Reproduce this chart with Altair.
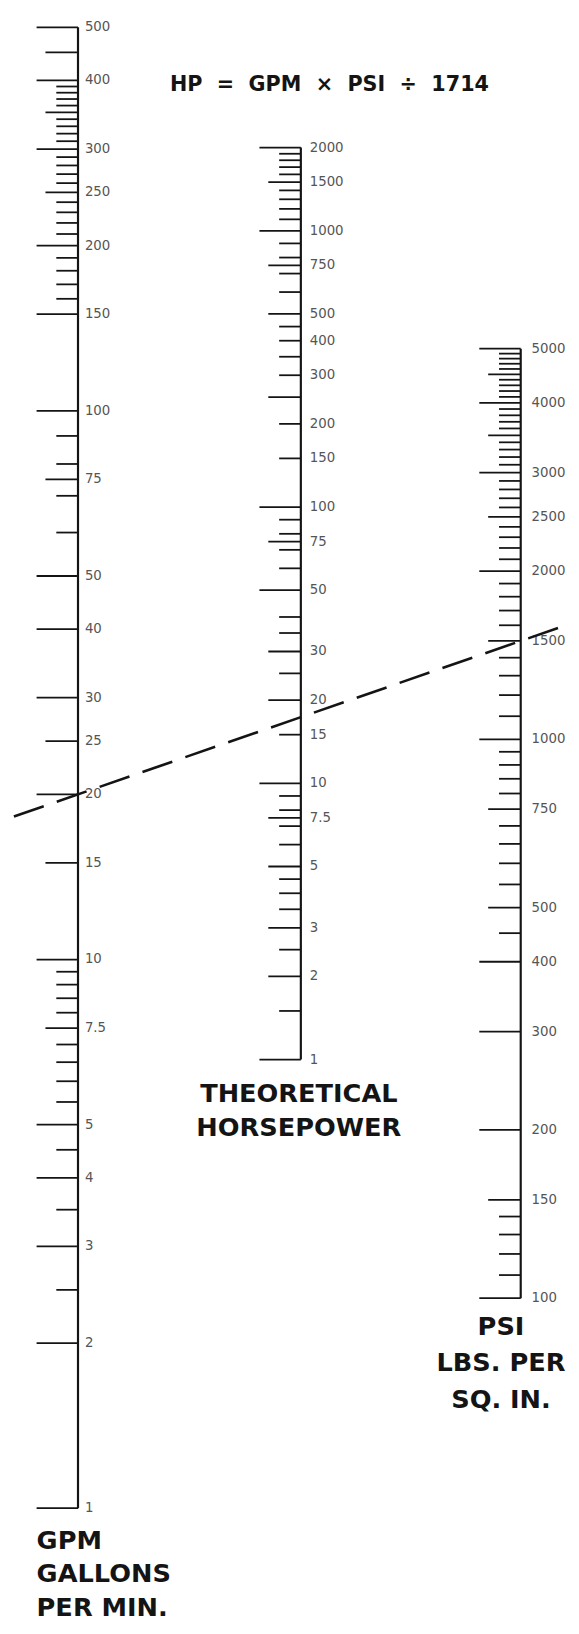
import altair as alt
import pandas as pd

# ---------------- data ----------------
GPM_MAJOR = [500, 400, 300, 200, 150, 100, 50, 40, 30, 20, 10, 5, 4, 3, 2, 1]
GPM_MID = [450, 350, 250, 75, 25, 15, 7.5]
GPM_MINOR = [390, 380, 370, 360, 340, 330, 320, 310, 290, 280, 270, 260,
             240, 230, 220, 210, 190, 180, 170, 160, 90, 80, 70, 60,
             9.5, 9, 8.5, 8, 7, 6.5, 6, 5.5, 4.5, 3.5, 2.5]
GPM_LABELS = [500, 400, 300, 250, 200, 150, 100, 75, 50, 40, 30, 25, 20, 15,
              10, 7.5, 5, 4, 3, 2, 1]

HP_MAJOR = [2000, 1000, 100, 50, 10, 1]
HP_MID = [1500, 750, 500, 250, 75, 30, 20, 7.5, 5, 3, 2]
HP_MINOR = [1900, 1800, 1700, 1600, 1400, 1300, 1200, 1100, 900, 800, 700, 600,
            450, 400, 350, 300, 200, 150, 90, 80, 70, 60, 40, 35, 25, 15,
            9, 8, 7, 6, 4.5, 4, 3.5, 2.5, 1.5]
HP_LABELS = [2000, 1500, 1000, 750, 500, 400, 300, 200, 150, 100, 75, 50, 30,
             20, 15, 10, 7.5, 5, 3, 2, 1]

PSI_MAJOR = [5000, 4000, 3000, 2000, 1000, 400, 300, 200, 100]
PSI_MID = [4500, 3500, 2500, 1500, 750, 500, 150]
PSI_MINOR = [4900, 4800, 4700, 4600, 4400, 4300, 4200, 4100,
             3900, 3800, 3700, 3600, 3400, 3300, 3200, 3100,
             2900, 2800, 2700, 2600, 2400, 2300, 2200, 2100,
             1900, 1800, 1700, 1600, 1400, 1300, 1200, 1100,
             950, 900, 850, 800, 700, 650, 600, 550, 450,
             140, 130, 120, 110]
PSI_LABELS = [5000, 4000, 3000, 2500, 2000, 1500, 1000, 750, 500, 400, 300,
              200, 150, 100]

KEY_GPM = 20      # example: 20 GPM
KEY_PSI = 1500    # at 1500 PSI -> about 17.5 HP

FORMULA = "HP\u00a0\u00a0=\u00a0\u00a0GPM\u00a0\u00a0\u00d7\u00a0\u00a0PSI\u00a0\u00a0\u00f7\u00a0\u00a01714"
GPM_TITLE = "GPM\nGALLONS\nPER MIN."
HP_TITLE = "THEORETICAL\nHORSEPOWER"
PSI_TITLE = "PSI\nLBS. PER\nSQ. IN."

# ---------------- layout (scale geometry of the nomogram) ----------------
# name: (axis x, y of value 1, pixels per decade, label offset)
GEOM = {"GPM": (77, 1518.0, 556.5, 7),
        "HP": (303, 1063.0, 280.2, 9),
        "PSI": (526, 2438.6, 566.8, 11)}
TICK_LEN = {"major": 42, "mid": 33, "minor": 22}

XS = alt.Scale(domain=[8, 571], nice=False, zero=False)
YS = alt.Scale(domain=[8, 1626], nice=False, zero=False, reverse=True)
INK = "#141414"


def by_scale(fn):
    parts = [f"datum.scale == '{k}' ? ({fn(*v)})" for k, v in GEOM.items()]
    return " : ".join(parts) + " : 0"


def pos_expr(field):
    return by_scale(lambda ax, base, mod, d: f"{base} - log(datum.{field}) / LN10 * {mod}")


AX_EXPR = by_scale(lambda ax, base, mod, d: f"{ax}")
LX_EXPR = by_scale(lambda ax, base, mod, d: f"{ax + d}")
LEN_EXPR = " : ".join(f"datum.kind == '{k}' ? {v}" for k, v in TICK_LEN.items()) + " : 0"

# ---------------- tables ----------------
tick_rows = []
for name, groups in {"GPM": (GPM_MAJOR, GPM_MID, GPM_MINOR),
                     "HP": (HP_MAJOR, HP_MID, HP_MINOR),
                     "PSI": (PSI_MAJOR, PSI_MID, PSI_MINOR)}.items():
    for kind, vals in zip(("major", "mid", "minor"), groups):
        for v in vals:
            tick_rows.append({"scale": name, "value": v, "kind": kind})
ticks = pd.DataFrame(tick_rows)

label_rows = []
for name, vals in {"GPM": GPM_LABELS, "HP": HP_LABELS, "PSI": PSI_LABELS}.items():
    for v in vals:
        label_rows.append({"scale": name, "value": v,
                           "label": (str(v) if v != int(v) else str(int(v)))})
labels = pd.DataFrame(label_rows)

axes = pd.DataFrame([
    {"scale": "GPM", "lo": min(GPM_MAJOR + GPM_MID + GPM_MINOR), "hi": max(GPM_MAJOR + GPM_MID + GPM_MINOR)},
    {"scale": "HP", "lo": min(HP_MAJOR + HP_MID + HP_MINOR), "hi": max(HP_MAJOR + HP_MID + HP_MINOR)},
    {"scale": "PSI", "lo": min(PSI_MAJOR + PSI_MID + PSI_MINOR), "hi": max(PSI_MAJOR + PSI_MID + PSI_MINOR)},
])

key = pd.DataFrame({"end": [0, 1], "gpm": [KEY_GPM, KEY_GPM], "psi": [KEY_PSI, KEY_PSI]})

# ---------------- layers ----------------
axis_lines = alt.Chart(axes).transform_calculate(
    ax=AX_EXPR, y1=pos_expr("hi"), y2=pos_expr("lo")
).mark_rule(color=INK, strokeWidth=2.2).encode(
    x=alt.X("ax:Q", scale=XS, axis=None),
    y=alt.Y("y1:Q", scale=YS, axis=None),
    y2="y2:Q",
)

tick_marks = alt.Chart(ticks).transform_calculate(
    ax=AX_EXPR, pos=pos_expr("value")
).transform_calculate(
    x1=f"datum.ax - ({LEN_EXPR})"
).mark_rule(color=INK, strokeWidth=1.8).encode(
    x=alt.X("x1:Q", scale=XS, axis=None),
    x2="ax:Q",
    y=alt.Y("pos:Q", scale=YS, axis=None),
)

tick_labels = alt.Chart(labels).transform_calculate(
    lx=LX_EXPR, pos=pos_expr("value")
).mark_text(align="left", baseline="middle", font="DejaVu Sans",
            fontSize=13.5, color="#555555").encode(
    x=alt.X("lx:Q", scale=XS, axis=None),
    y=alt.Y("pos:Q", scale=YS, axis=None),
    text="label:N",
)

gx, gb, gm, _ = GEOM["GPM"]
px_, pb, pm, _ = GEOM["PSI"]
key_line = alt.Chart(key).transform_calculate(
    yg=f"{gb} - log(datum.gpm) / LN10 * {gm}",
    yp=f"{pb} - log(datum.psi) / LN10 * {pm}",
    lx="datum.end == 0 ? 12 : 571",
).transform_calculate(
    ly=f"datum.yg + (datum.yp - datum.yg) * (datum.lx - {gx}) / ({px_} - {gx})"
).mark_line(color=INK, strokeWidth=2.6, strokeDash=[32, 14]).encode(
    x=alt.X("lx:Q", scale=XS, axis=None),
    y=alt.Y("ly:Q", scale=YS, axis=None),
    order="end:Q",
)


def text_layer(text, x, y, align, size, line_height=None):
    df = pd.DataFrame({"t": [text]})
    kw = dict(align=align, baseline="alphabetic", font="DejaVu Sans",
              fontWeight="bold", fontSize=size, color=INK, lineBreak="\n")
    if line_height:
        kw["lineHeight"] = line_height
    return alt.Chart(df).transform_calculate(tx=f"{x}", ty=f"{y}").mark_text(**kw).encode(
        x=alt.X("tx:Q", scale=XS, axis=None),
        y=alt.Y("ty:Q", scale=YS, axis=None),
        text="t:N",
    )


formula = text_layer(FORMULA, 332, 81, "center", 21)
gpm_title = text_layer(GPM_TITLE, 35, 1559, "left", 26, 34)
hp_title = text_layer(HP_TITLE, 301, 1106, "center", 26, 34)
psi_title = text_layer(PSI_TITLE, 506, 1342, "center", 26, 37)

chart = alt.layer(
    axis_lines, tick_marks, tick_labels, key_line,
    formula, gpm_title, hp_title, psi_title,
).properties(width=563, height=1618, padding=0).configure_view(stroke=None)

chart.save("out.html", embed_options={"renderer": "svg", "actions": False})
